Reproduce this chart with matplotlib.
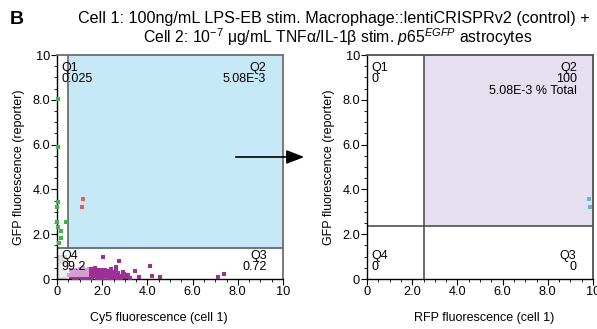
import matplotlib
matplotlib.use("Agg")
import matplotlib.pyplot as plt
from matplotlib.patches import Rectangle
from matplotlib.ticker import MultipleLocator, FixedLocator

plt.rcParams['font.family'] = ['Liberation Sans', 'DejaVu Sans']
plt.rcParams['mathtext.fontset'] = 'custom'
plt.rcParams['mathtext.rm'] = 'Liberation Sans'
plt.rcParams['mathtext.it'] = 'Liberation Sans:italic'

# ---------------- data ----------------
tick_vals = [0, 2, 4, 6, 8, 10]
tick_labels = ["0", "2.0", "4.0", "6.0", "8.0", "10"]

# left panel gates
left_gate_x = 0.5
left_gate_y = 1.38
left_quads = ["Q1\n0.025", "Q2\n5.08E-3", "Q3\n0.72", "Q4\n99.2"]

green_x = [0.04, 0.04, 0.06, 0.02, 0.02, 0.40, 0.06, 0.16, 0.18, 0.10]
green_y = [8.04, 5.88, 3.42, 3.23, 2.53, 2.53, 2.34, 2.16, 1.82, 1.62]

red_x = [1.17, 1.09]
red_y = [3.59, 3.23]

mag_x = [2.02, 2.76, 2.61, 2.37, 2.14, 3.47, 3.63, 4.10, 4.22, 4.54, 7.11, 7.39,
         0.60, 0.70, 0.80, 0.90, 1.00, 1.10, 1.20, 1.30, 1.40, 1.50, 1.60, 1.70,
         1.80, 1.90, 2.00, 2.10, 2.20, 2.30, 2.40, 2.50, 2.60, 2.70, 2.80, 2.90,
         3.00, 3.10, 3.25, 0.65, 0.75, 0.85, 0.95, 1.05, 1.15, 1.25, 1.35, 1.45,
         1.55, 1.65, 1.75, 1.85, 1.95, 2.05, 2.15, 2.25, 2.35, 2.45, 2.55, 2.65,
         2.75, 2.85, 2.95, 3.05, 0.70, 0.90, 1.10, 1.30, 1.50, 1.70, 1.90, 2.10,
         2.30, 1.00, 1.20, 1.40, 1.60, 1.80, 1.45, 1.65, 1.25, 1.85, 2.05, 2.45,
         0.80, 1.15, 1.55, 1.75, 1.95, 2.25, 2.60, 2.90, 3.15, 0.55, 0.62, 0.88,
         1.02, 1.22, 1.38, 1.58, 1.72, 1.92, 2.12, 2.32, 2.52, 2.72, 1.12, 1.32,
         1.52, 1.68, 1.88, 2.08, 2.28, 2.48]
mag_y = [0.97, 0.82, 0.55, 0.46, 0.40, 0.37, 0.10, 0.58, 0.15, 0.08, 0.10, 0.22,
         0.08, 0.15, 0.25, 0.20, 0.30, 0.35, 0.42, 0.38, 0.45, 0.32, 0.40, 0.48,
         0.35, 0.28, 0.30, 0.22, 0.18, 0.25, 0.15, 0.20, 0.12, 0.28, 0.10, 0.18,
         0.08, 0.14, 0.06, 0.30, 0.05, 0.12, 0.35, 0.10, 0.22, 0.05, 0.15, 0.20,
         0.10, 0.28, 0.05, 0.18, 0.12, 0.05, 0.35, 0.08, 0.12, 0.05, 0.30, 0.05,
         0.15, 0.05, 0.22, 0.10, 0.38, 0.10, 0.05, 0.25, 0.05, 0.15, 0.05, 0.40,
         0.35, 0.45, 0.28, 0.08, 0.20, 0.42, 0.35, 0.12, 0.18, 0.30, 0.15, 0.10,
         0.42, 0.48, 0.45, 0.30, 0.42, 0.05, 0.38, 0.30, 0.20, 0.20, 0.40, 0.05,
         0.18, 0.12, 0.28, 0.22, 0.12, 0.40, 0.28, 0.05, 0.10, 0.08, 0.45, 0.05,
         0.38, 0.20, 0.25, 0.15, 0.22, 0.25]

# right panel gates
right_gate_x = 2.5
right_gate_y = 2.38
right_quads = ["Q1\n0", "Q2\n100\n5.08E-3 % Total", "Q3\n0", "Q4\n0"]

cyan_x = [9.84, 9.87]
cyan_y = [3.57, 3.23]

title1 = "Cell 1: 100ng/mL LPS-EB stim. Macrophage::lentiCRISPRv2 (control) +"
title2 = r"Cell 2: 10$^{-7}$ μg/mL TNFα/IL-1β stim. $\mathit{p65}^{\mathit{EGFP}}$ astrocytes"

# ---------------- figure ----------------
W, H = 597, 329
fig = plt.figure(figsize=(W / 100, H / 100), dpi=100)

def fx(px):
    return px / W

def fy(py):
    return 1 - py / H

axL = fig.add_axes([fx(57), fy(279), fx(226), 224 / H])
axR = fig.add_axes([fx(367), fy(279), fx(226), 224 / H])

FS = 8.2

def style_axes(ax, xlabel, xlab_pos):
    ax.set_xlim(0, 10)
    ax.set_ylim(0, 10)
    ax.xaxis.set_major_locator(FixedLocator(tick_vals))
    ax.yaxis.set_major_locator(FixedLocator(tick_vals))
    ax.set_xticklabels(tick_labels)
    ax.set_yticklabels(tick_labels)
    ax.xaxis.set_minor_locator(MultipleLocator(0.5))
    ax.yaxis.set_minor_locator(MultipleLocator(0.5))
    ax.tick_params(which='major', length=4, width=0.8, labelsize=FS + 1, pad=1,
                   color='black')
    ax.tick_params(which='minor', length=2.2, width=0.6, color='black')
    ax.set_xlabel(xlabel, fontsize=FS + 0.8)
    ax.xaxis.set_label_coords(xlab_pos, -33 / 224)
    ax.set_ylabel("GFP fluorescence (reporter)", fontsize=FS + 0.8, labelpad=5)
    for s in ['left', 'bottom']:
        ax.spines[s].set_color('black')
        ax.spines[s].set_linewidth(1.0)

# ----- left panel -----
style_axes(axL, "Cy5 fluorescence (cell 1)", 0.45)
axL.add_patch(Rectangle((left_gate_x, left_gate_y), 10 - left_gate_x, 10 - left_gate_y,
                        facecolor='#c6e8f7', edgecolor='none', zorder=0))
axL.add_patch(Rectangle((0, 0), 0.45, 1.05, facecolor='#dcdcdc', edgecolor='none', zorder=0))
axL.plot([left_gate_x, left_gate_x], [left_gate_y, 10], color='#707070', lw=1.3, zorder=1)
axL.plot([0, 10], [left_gate_y, left_gate_y], color='#5d6b72', lw=1.3, zorder=1)
for s in ['top', 'right']:
    axL.spines[s].set_color('#6e6e6e')
    axL.spines[s].set_linewidth(1.3)

axL.scatter(green_x, green_y, marker='s', s=7, color='#3cb54a', linewidths=0, zorder=3,
            clip_on=False)
axL.scatter(red_x, red_y, marker='s', s=7, color='#e2614c', linewidths=0, zorder=3)
axL.scatter(mag_x, mag_y, marker='s', s=10, color='#9c2f98', linewidths=0, zorder=3)
axL.add_patch(Rectangle((0.1, 0.1), 1.3, 0.55, facecolor='white', alpha=0.55,
                        edgecolor='none', zorder=4))

qkw = dict(fontsize=FS + 0.8, linespacing=0.95, va='top', zorder=5)
axL.text(0.18, 9.7, left_quads[0], ha='left', **qkw)
axL.text(9.25, 9.7, left_quads[1], ha='right', multialignment='right', **qkw)
axL.text(9.3, 1.3, left_quads[2], ha='right', multialignment='right', **qkw)
axL.text(0.18, 1.3, left_quads[3], ha='left', **qkw)

# ----- right panel -----
style_axes(axR, "RFP fluorescence (cell 1)", 0.518)
axR.add_patch(Rectangle((right_gate_x, right_gate_y), 10 - right_gate_x, 10 - right_gate_y,
                        facecolor='#e5dfef', edgecolor='none', zorder=0))
axR.plot([right_gate_x, right_gate_x], [0, 10], color='#505050', lw=1.2, zorder=1)
axR.plot([0, 10], [right_gate_y, right_gate_y], color='#505050', lw=1.2, zorder=1)
for s in ['top', 'right']:
    axR.spines[s].set_color('#505050')
    axR.spines[s].set_linewidth(1.3)
axR.scatter(cyan_x, cyan_y, marker='s', s=7, color='#5bbad8', linewidths=0, zorder=3)

axR.text(0.2, 9.7, right_quads[0], ha='left', **qkw)
axR.text(9.28, 9.7, right_quads[1], ha='right', multialignment='right', **qkw)
axR.text(9.25, 1.3, right_quads[2], ha='right', multialignment='right', **qkw)
axR.text(0.2, 1.3, right_quads[3], ha='left', **qkw)

# ----- arrow -----
fig.add_artist(matplotlib.patches.FancyArrowPatch(
    (fx(233), fy(157)), (fx(307), fy(157)), transform=fig.transFigure,
    arrowstyle='-|>,head_length=0.9,head_width=0.35', mutation_scale=12,
    color='black', lw=1.2))

# ----- titles -----
fig.text(fx(17), fy(20), "B", fontsize=14, fontweight='bold', ha='center', va='center')
fig.text(fx(78), fy(18), title1, fontsize=11.6, ha='left', va='center')
fig.text(fx(143), fy(37), title2, fontsize=11.3, ha='left', va='center')

fig.savefig("out.png", dpi=100)
